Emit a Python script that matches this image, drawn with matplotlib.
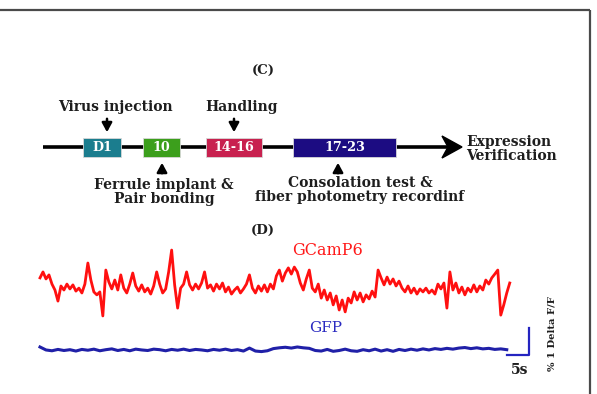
"""Timeline of the experiment (C) and example photometry traces (D)."""

import matplotlib

matplotlib.use("Agg")
import matplotlib.pyplot as plt
import numpy as np
from matplotlib.patches import Polygon, Rectangle

# --- timeline (C) ---
STAGE_LABELS = ["D1", "10", "14-16", "17-23"]
STAGE_COLORS = ["#1b7d8e", "#3c9f1c", "#c8214f", "#1c0c82"]
EVENT_ABOVE = ["Virus injection", "Handling"]
EVENT_BELOW = ["Ferrule implant &\nPair bonding", "Consolation test &\nfiber photometry recordinf"]
END_LABEL = "Expression\nVerification"

# --- traces (D), % Delta F/F ---
GCAMP_DT = 0.68  # s per sample
GCAMP_DFF = [
    0.19, 0.41, 0.15, 0.30, -0.04, -0.26, -0.67, -0.11, -0.26, -0.04,
    -0.22, -0.07, -0.30, -0.19, -0.37, -0.04, 0.74, 0.11, -0.33, -0.44,
    -0.33, -1.22, 0.48, 0.04, -0.22, 0.11, -0.26, 0.30, -0.19, -0.37,
    -0.04, 0.37, -0.11, -0.30, -0.07, -0.33, -0.19, -0.41, -0.11, 0.41,
    -0.04, -0.37, -0.22, 0.41, 1.22, -0.07, -0.93, -0.19, -0.04, 0.41,
    -0.07, -0.26, -0.04, -0.22, 0.00, 0.41, -0.19, -0.07, -0.30, -0.04,
    -0.22, 0.00, -0.33, -0.15, -0.41, -0.26, -0.15, -0.37, -0.22, -0.04,
    0.30, -0.19, -0.37, -0.11, -0.30, -0.07, -0.33, -0.04, -0.22, 0.26,
    0.48, 0.07, 0.37, 0.56, 0.33, 0.59, 0.41, 0.00, -0.26, 0.15,
    0.48, -0.19, -0.33, -0.04, -0.56, -0.26, -0.63, -0.37, -0.81, -0.48,
    -1.00, -0.63, -1.07, -0.56, -0.74, -0.33, -0.63, -0.37, -0.70, -0.44,
    -0.59, -0.30, -0.52, 0.48, 0.19, -0.07, 0.22, -0.04, 0.15, -0.11,
    0.07, -0.19, -0.33, -0.11, -0.37, -0.19, -0.41, -0.22, -0.33, -0.19,
    -0.37, -0.26, -0.41, -0.04, -0.22, 0.00, -0.93, 0.41, -0.26, 0.00,
    -0.37, -0.15, -0.44, -0.19, -0.33, -0.07, -0.33, -0.11, -0.26, 0.11,
    -0.04, 0.19, 0.33, 0.48, -1.19, -0.81, -0.37, 0.00,
]
GFP_DT = 1.36
GFP_DFF = [
    0.11, 0.00, -0.03, 0.02, -0.02, 0.01, -0.04, 0.02, -0.01, 0.03,
    -0.03, 0.01, 0.04, -0.02, 0.02, -0.03, 0.03, 0.00, -0.02, 0.03,
    0.01, -0.03, 0.02, -0.01, 0.03, -0.02, 0.02, 0.00, -0.03, 0.02,
    -0.01, 0.03, -0.02, 0.01, -0.04, 0.07, -0.04, -0.06, -0.03, 0.05,
    0.08, 0.10, 0.07, 0.11, 0.08, 0.06, -0.02, -0.04, 0.02, -0.05,
    -0.02, 0.03, -0.03, -0.05, 0.01, -0.03, 0.03, -0.04, 0.01, -0.05,
    0.02, -0.02, 0.03, -0.01, 0.04, 0.00, 0.05, 0.02, 0.06, 0.03,
    0.07, 0.09, 0.05, 0.08, 0.04, 0.06, 0.02, 0.04, 0.01,
]
GFP_OFFSET = -2.48
SCALE_DFF = 1.0  # % Delta F/F
SCALE_SEC = 5.0

W, H = 597, 394
SERIF = "DejaVu Serif"
INK = "#1e1e1e"


def stacked(ax, x, y_first, text, gap, **kw):
    # one text per line so the line gap matches the figure
    for i, line in enumerate(text.split("\n")):
        ax.text(x, y_first + i * gap, line, **kw)


def draw_timeline(ax):
    # panel frame (top and right edges only are visible)
    ax.plot([0, 590], [9.5, 9.5], color="#4a4a4a", lw=1.6, solid_capstyle="butt")
    ax.plot([590, 590], [9.5, H], color="#4a4a4a", lw=1.6, solid_capstyle="butt")

    ax.text(263, 70, "(C)", ha="center", va="center", fontsize=9.5,
            fontweight="bold", family=SERIF, color=INK)

    y0 = 147
    ax.plot([43, 450], [y0, y0], color="black", lw=2.6, solid_capstyle="butt")
    ax.add_patch(Polygon([(462, y0), (442, y0 - 11), (448, y0), (442, y0 + 11)],
                         closed=True, color="black"))

    spans = [(83, 121), (143, 180), (206, 262), (293, 396)]
    for (x0, x1), label, color in zip(spans, STAGE_LABELS, STAGE_COLORS):
        ax.add_patch(Rectangle((x0, y0 - 9.5), x1 - x0, 19, facecolor=color,
                               edgecolor="#d8d8d8", lw=0.6, zorder=3))
        ax.text((x0 + x1) / 2, y0 + 0.5, label, ha="center", va="center", color="white",
                fontsize=9.2, fontweight="bold", family=SERIF, zorder=4)

    kw = dict(ha="center", va="center", fontsize=10, fontweight="bold",
              family=SERIF, color=INK)
    arrow = dict(arrowstyle="-|>,head_length=0.55,head_width=0.3", color="black", lw=1.8)
    for (tx, ax_x), label in zip([(115, 107), (242, 234)], EVENT_ABOVE):
        ax.text(tx, 107, label, **kw)
        ax.annotate("", xy=(ax_x, 135), xytext=(ax_x, 116), arrowprops=arrow)
    for (tx, ax_x, ty), label in zip([(164, 162, 185), (360, 338, 183)], EVENT_BELOW):
        stacked(ax, tx, ty, label, 13.5, **kw)
        ax.annotate("", xy=(ax_x, 160), xytext=(ax_x, 176), arrowprops=arrow)

    stacked(ax, 466, 142, END_LABEL, 14, ha="left", va="center", fontsize=10,
            fontweight="bold", family=SERIF, color=INK)
    ax.text(263, 230, "(D)", ha="center", va="center", fontsize=9.5,
            fontweight="bold", family=SERIF, color=INK)


def draw_traces(ax):
    gcamp = np.array(GCAMP_DFF)
    gfp = np.array(GFP_DFF) + GFP_OFFSET
    t_gcamp = np.arange(len(gcamp)) * GCAMP_DT
    t_gfp = np.arange(len(gfp)) * GFP_DT

    ax.plot(t_gcamp, gcamp, color="#ff1010", lw=2.0)
    ax.plot(t_gfp, gfp, color="#2020a8", lw=2.2)

    # scale bar, anchored at end of the GFP trace
    sx = t_gfp[-1]
    sy = GFP_OFFSET - 0.2
    ax.plot([sx, sx + SCALE_SEC, sx + SCALE_SEC], [sy, sy, sy + SCALE_DFF],
            color="#2424c0", lw=1.6)
    ax.text(sx + SCALE_SEC * 0.6, sy - 0.55, "5s", ha="center", va="center",
            fontsize=10, fontweight="bold", family=SERIF, color=INK)
    ax.text(sx + 10.3, sy + 0.8, "% 1 Delta F/F", ha="center", va="center",
            rotation=90, fontsize=7.2, fontweight="bold", family=SERIF, color=INK)

    ax.text(t_gcamp.mean() + 12, 1.22, "GCamP6", ha="center", va="center",
            fontsize=11.5, family=SERIF, color="#ff1a1a")
    ax.text(t_gcamp.mean() + 11.5, GFP_OFFSET + 0.82, "GFP", ha="center", va="center",
            fontsize=11, family=SERIF, color="#2a2ac0")


def main() -> None:
    fig = plt.figure(figsize=(W / 100, H / 100), dpi=100)
    fig.patch.set_facecolor("white")

    ax = fig.add_axes([0, 0, 1, 1])
    ax.set_xlim(0, W)
    ax.set_ylim(H, 0)
    ax.axis("off")
    draw_timeline(ax)

    # trace axes share the full canvas: 22 px per 5 s, 27 px per 1 % dF/F
    tx = fig.add_axes([0, 0, 1, 1])
    tx.set_xlim(-40 / 4.4, (W - 40) / 4.4)
    tx.set_ylim(-(H - 283) / 27, 283 / 27)
    tx.axis("off")
    draw_traces(tx)

    fig.savefig("out.png", dpi=100, facecolor="white")
    plt.close(fig)


if __name__ == "__main__":
    main()
